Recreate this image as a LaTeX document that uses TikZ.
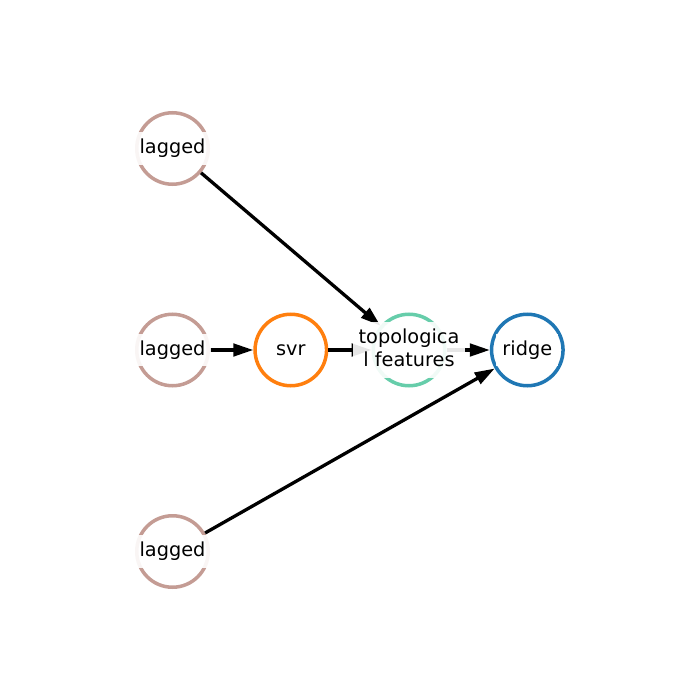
\documentclass[tikz,border=0pt]{standalone}
\usepackage{fontspec}
\setmainfont{DejaVu Sans}
\usetikzlibrary{arrows.meta}
\definecolor{laggedc}{HTML}{C49C94}
\definecolor{svrc}{HTML}{FF7F0E}
\definecolor{topoc}{HTML}{66CDAA}
\definecolor{ridgec}{HTML}{1F77B4}
\newcommand\mystrut{\rule[-5.5pt]{0pt}{21.5pt}}
\tikzset{
  nodecirc/.style={circle, draw=#1, fill=white, line width=3.5pt, minimum size=71.5pt, inner sep=0pt},
  lbl/.style={fill=white, fill opacity=0.9, text opacity=1, inner xsep=6pt, inner ysep=5.6pt,
    font=\fontsize{19.3}{22.8}\selectfont, align=center},
  edge/.style={draw=black, line width=3.3pt, -{Triangle[length=20pt,width=12.5pt]}}
}
\begin{document}
\begin{tikzpicture}[x=1pt,y=-1pt]
\useasboundingbox (0,0) rectangle (700,700);
\node[nodecirc=laggedc] (l1) at (172.5,148.5) {};
\node[nodecirc=laggedc] (l2) at (172.5,350) {};
\node[nodecirc=laggedc] (l3) at (172.5,551.5) {};
\node[nodecirc=svrc] (svr) at (290.8,350) {};
\node[nodecirc=topoc] (topo) at (409,350) {};
\node[nodecirc=ridgec] (ridge) at (527.3,350) {};
\draw[edge] (l1) -- (topo);
\draw[edge] (l2) -- (svr);
\draw[edge] (svr) -- (topo);
\draw[edge] (topo) -- (ridge);
\draw[edge] (l3) -- (ridge);
\node[lbl] (t1) at (l1) {\mystrut lagged};
\node[lbl] (t2) at (l2) {\mystrut lagged};
\node[lbl] (t3) at (l3) {\mystrut lagged};
\node[lbl] (t4) at (svr) {\mystrut svr};
\node[lbl] (t5) at (topo) {\mystrut topologica\\\mystrut l features};
\node[lbl] (t6) at (ridge) {\mystrut ridge};
\end{tikzpicture}
\end{document}
